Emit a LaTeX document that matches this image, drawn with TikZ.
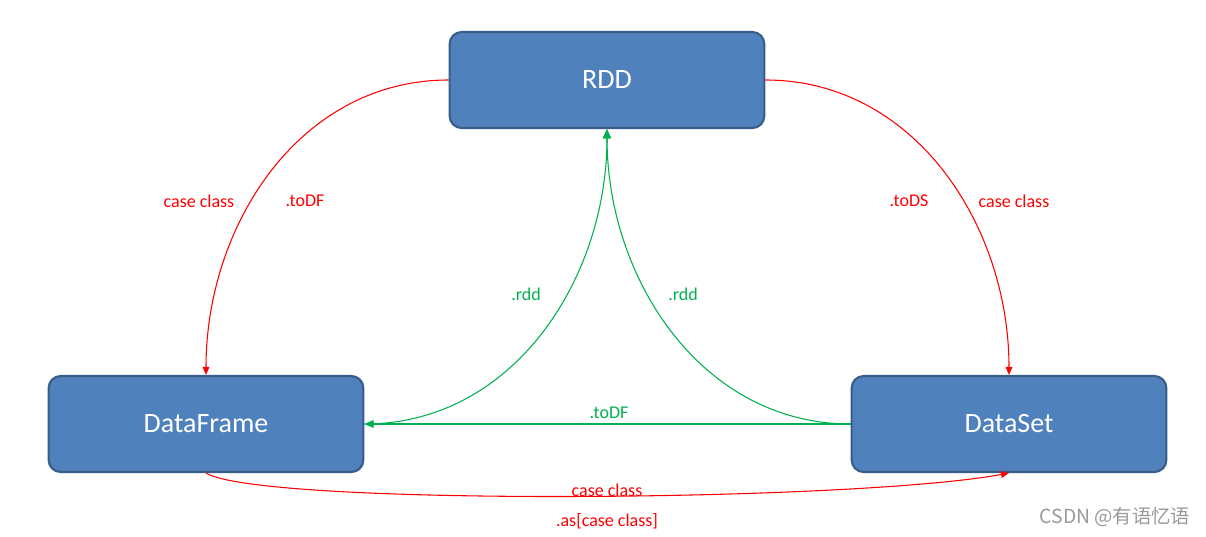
\documentclass[tikz,border=0pt]{standalone}
\usepackage{fontspec}
\setmainfont{Carlito}
\newfontfamily\cjk{Noto Sans CJK SC}
\usetikzlibrary{arrows.meta,positioning}
\definecolor{boxfill}{HTML}{4F81BD}
\definecolor{boxline}{HTML}{385D8A}
\definecolor{mygreen}{HTML}{00B050}
\tikzset{
  box/.style={rounded corners=9pt,fill=boxfill,draw=boxline,line width=1.6pt,
    minimum width=236pt,minimum height=72pt,text=white,font=\fontsize{21}{24}\selectfont},
  redarr/.style={red,line width=0.8pt,-{Triangle[length=6pt,width=5pt]}},
  greenarr/.style={mygreen,line width=0.8pt,-{Triangle[length=7pt,width=6pt]}},
  redlbl/.style={text=red,font=\fontsize{13.5}{16}\selectfont},
  greenlbl/.style={text=mygreen,font=\fontsize{13.5}{16}\selectfont}
}
\begin{document}
\begin{tikzpicture}[x=0.75pt,y=-0.75pt]
                \useasboundingbox (0,0) rectangle (1206,536);
                \node[box] (rdd) at (607,80) {RDD};
                \node[box] (df) at (206,424) {DataFrame};
                \node[box] (ds) at (1009,424) {DataSet};
                \draw[redarr] (rdd.west) to[out=180,in=90] (df.north);
                \draw[redarr] (rdd.east) to[out=0,in=90] (ds.north);
                \draw[greenarr] (df.east) to[out=0,in=-90] (rdd.south);
                \draw[greenarr] (ds.west) to[out=180,in=-90] (rdd.south);
                \draw[greenarr] (ds.west) -- (df.east);
                \draw[redarr] (df.south) .. controls +(54,33) and +(-159,29) .. (ds.south);
                \node[redlbl] (cc1) at (199,201) {case class};
                \node[redlbl] (todf1) at (305,201) {.toDF};
                \node[redlbl] (tods) at (909,201) {.toDS};
                \node[redlbl] (cc2) at (1014,201) {case class};
                \node[greenlbl] (rdd1) at (526,294) {.rdd};
                \node[greenlbl] (rdd2) at (683,294) {.rdd};
                \node[greenlbl] (todf2) at (609,413) {.toDF};
                \node[redlbl] (cc3) at (607,490) {case class};
                \node[redlbl] (as) at (607,521) {.as[case class]};
                \node[text=gray!80,font=\fontsize{14.5}{17}\selectfont\cjk] (mark) at (1115,517) {CSDN @有语忆语};
            \end{tikzpicture}
\end{document}
